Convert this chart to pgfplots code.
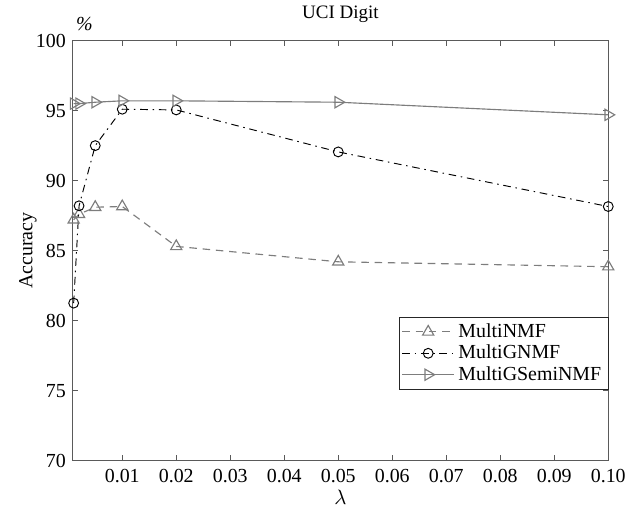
\documentclass[border=0pt]{standalone}
\usepackage{fontspec}
\setmainfont{Liberation Serif}
\usepackage{pgfplots}
\pgfplotsset{compat=1.18}
\definecolor{lgray}{RGB}{125,125,125}
\definecolor{axgray}{RGB}{90,90,90}
\begin{document}
\begin{tikzpicture}
\begin{axis}[
  scale only axis, width=282.4pt, height=221.4pt,
  xmin=0.0008, xmax=0.1, ymin=70, ymax=100,
  xtick={0.01,0.02,0.03,0.04,0.05,0.06,0.07,0.08,0.09,0.1},
  xticklabels={0.01,0.02,0.03,0.04,0.05,0.06,0.07,0.08,0.09,0.10},
  ytick={70,75,80,85,90,95,100},
  scaled x ticks=false,
  /pgf/number format/assume math mode=true,
  tick align=inside,
  major tick length=3pt,
  tick style={axgray, line width=0.5pt},
  axis line style={axgray, line width=0.6pt},
  ticklabel style={font=\fontsize{10.5}{12}\selectfont},
  xticklabel style={yshift=-1pt},
  legend style={at={(1,0.343)}, anchor=north east, draw=black!85,
    font=\fontsize{10.5}{12}\selectfont, inner sep=1.5pt, row sep=-1.5pt,
    cells={anchor=west}},
  legend image code/.code={\draw[mark repeat=2,mark phase=2] plot coordinates {(0cm,0cm) (0.48cm,0cm) (0.96cm,0cm)};},
]
\addplot[lgray, line width=0.6pt, dash pattern=on 4pt off 3pt, mark=triangle, mark size=3.4pt, mark options={solid, lgray, line width=0.6pt}]
  coordinates {(0.001,87.2)(0.002,87.6)(0.005,88.1)(0.01,88.15)(0.02,85.3)(0.05,84.2)(0.1,83.85)};
\addlegendentry{MultiNMF}
\addplot[black, line width=0.5pt, dash pattern=on 4pt off 2.5pt on 0.8pt off 2.5pt, mark=o, mark size=2.6pt, mark options={solid, black, line width=0.5pt}]
  coordinates {(0.001,81.25)(0.002,88.2)(0.005,92.5)(0.01,95.1)(0.02,95.05)(0.05,92.05)(0.1,88.15)};
\addlegendentry{MultiGNMF}
\addplot[lgray, line width=0.6pt, solid, mark=triangle, mark size=3.4pt, mark options={solid, lgray, line width=0.6pt, rotate=-90}]
  coordinates {(0.001,95.5)(0.002,95.5)(0.005,95.6)(0.01,95.7)(0.02,95.7)(0.05,95.6)(0.1,94.7)};
\addlegendentry{MultiGSemiNMF}
\end{axis}
\node[rotate=90, font=\fontsize{10.5}{12}\selectfont] at ([xshift=-23.5pt]current axis.west) {Accuracy};
\node[font=\fontsize{10.5}{12}\selectfont, inner sep=0pt] at ([yshift=-19.5pt]current axis.south) {$\lambda$};
\node[font=\fontsize{10}{12}\selectfont] at ([yshift=13.7pt]current axis.north) {UCI Digit};
\node[font=\fontsize{10.5}{12}\selectfont\itshape] at ([xshift=6.3pt,yshift=9pt]current axis.north west) {\%};
\path ([shift={(-38.26pt,-24.21pt)}]current axis.south west) rectangle ([shift={(11.95pt,20.68pt)}]current axis.north east);
\end{tikzpicture}
\end{document}
